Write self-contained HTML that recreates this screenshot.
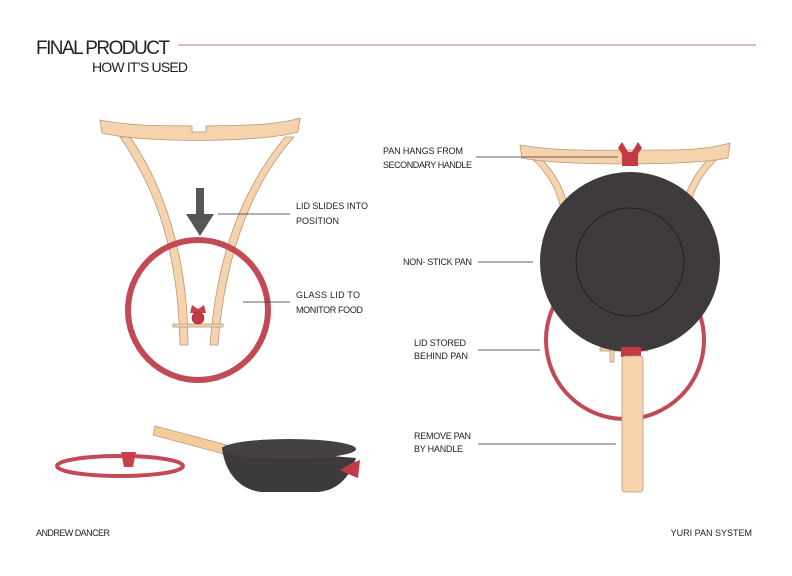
<!DOCTYPE html>
<html><head><style>
html,body{margin:0;padding:0;background:#fff;}
svg{display:block;}
text{font-family:"Liberation Sans Narrow","Liberation Sans",sans-serif;fill:#222;}
.l{font-size:9px;}
</style></head><body>
<svg width="792" height="576" viewBox="0 0 792 576" xmlns="http://www.w3.org/2000/svg">
<text x="36" y="54" font-size="19" textLength="134">FINAL PRODUCT</text>
<text x="92" y="72" font-size="14" textLength="96">HOW IT’S USED</text>
<line x1="178" y1="45" x2="756" y2="45" stroke="#c9736f" stroke-width="1"/>

<!-- LEFT -->
<g stroke="#b89878" stroke-width="0.8" fill="#f7d3ad">
<path d="M120,137 C150,180 178,240 180,345 L188,345 C188,250 160,180 130,137 Z"/>
<path d="M285,137 C250,180 218,240 210,345 L218,345 C225,250 255,180 294,137 Z"/>
<path d="M100,120 C140,128 180,125 192,126 L192,132 L206,132 L206,126 C230,125 270,127 300,118 L298,132 C260,143 140,143 102,133 Z"/>
<rect x="173" y="324" width="50" height="3"/>
</g>
<circle cx="198" cy="310" r="70" fill="none" stroke="#c24a55" stroke-width="6"/>
<path d="M190,313 l2,-8 l6,4 l6,-4 l2,8 Z" fill="#c8414a"/>
<circle cx="198" cy="318" r="6" fill="#c23a44" stroke="#8a2a30" stroke-width="0.6"/>
<rect x="196" y="188" width="8" height="27" fill="#555"/>
<polygon points="186,214 214,214 200,236" fill="#555"/>
<line x1="218" y1="214" x2="290" y2="214" stroke="#333" stroke-width="0.8"/>
<line x1="243" y1="302" x2="290" y2="302" stroke="#333" stroke-width="0.8"/>
<text x="296" y="209" class="l" textLength="72">LID SLIDES INTO</text>
<text x="296" y="224" class="l">POSITION</text>
<text x="296" y="298" class="l" textLength="64">GLASS LID TO</text>
<text x="296" y="313" class="l" textLength="67">MONITOR FOOD</text>

<!-- bottom left -->
<ellipse cx="120" cy="466" rx="63" ry="10" fill="none" stroke="#c24a55" stroke-width="4"/>
<path d="M121,452 h15 l-3,15 h-9 Z" fill="#c8414a"/>
<path d="M155,426 l72,19 l-3,9 l-71,-19 Z" fill="#f4cc9c" stroke="#b89878" stroke-width="0.7"/>
<path d="M222,447 C224,470 238,490 262,492 L318,492 C340,490 350,475 356,458 Z" fill="#3d3a3b"/>
<ellipse cx="289" cy="449" rx="67" ry="10" fill="#454142"/>
<path d="M340,470 l10,-6 l10,-4 l-2,18 l-10,-4 Z" fill="#c23a44"/>

<!-- RIGHT -->
<g stroke="#b89878" stroke-width="0.8" fill="#f7d3ad">
<path d="M530,157 C545,170 555,185 560,205 L566,200 C560,180 550,168 540,157 Z"/>
<path d="M720,157 C705,170 695,185 690,205 L684,200 C690,180 700,168 710,157 Z"/>
<path d="M520,145 C560,152 610,150 630,150 C660,150 700,152 730,143 L728,158 C690,166 560,166 522,158 Z"/>
<rect x="600" y="348" width="48" height="3"/>
<rect x="610" y="350" width="4" height="12"/>
<rect x="634" y="350" width="4" height="12"/>
</g>
<path d="M618,148 l4,-6 l6,10 l4,0 l6,-10 l4,6 l-4,6 v12 h-16 v-12 Z" fill="#c23a44"/>
<circle cx="625" cy="340" r="79" fill="none" stroke="#c24a55" stroke-width="4"/>
<circle cx="630" cy="262" r="90" fill="#3f3b3c"/>
<circle cx="630" cy="262" r="54" fill="none" stroke="#1e1a1a" stroke-width="0.8"/>
<rect x="621" y="347" width="20" height="10" fill="#c23a44"/>
<rect x="622" y="356" width="21" height="136" rx="3" fill="#f7d3ad" stroke="#b89878" stroke-width="0.8"/>
<g stroke="#333" stroke-width="0.8">
<line x1="476" y1="157" x2="618" y2="157"/>
<line x1="478" y1="262" x2="533" y2="262"/>
<line x1="478" y1="350" x2="540" y2="350"/>
<line x1="478" y1="444" x2="616" y2="444"/>
</g>
<text x="383" y="154" class="l" textLength="80">PAN HANGS FROM</text>
<text x="383" y="168" class="l" textLength="89">SECONDARY HANDLE</text>
<text x="403" y="265" class="l" textLength="69">NON- STICK PAN</text>
<text x="414" y="346" class="l" textLength="52">LID STORED</text>
<text x="414" y="359" class="l" textLength="54">BEHIND PAN</text>
<text x="414" y="439" class="l" textLength="57">REMOVE PAN</text>
<text x="414" y="452" class="l" textLength="49">BY HANDLE</text>

<text x="36" y="536" class="l" textLength="74">ANDREW DANCER</text>
<text x="752" y="536" class="l" text-anchor="end">YURI PAN SYSTEM</text>
</svg>
</body></html>
